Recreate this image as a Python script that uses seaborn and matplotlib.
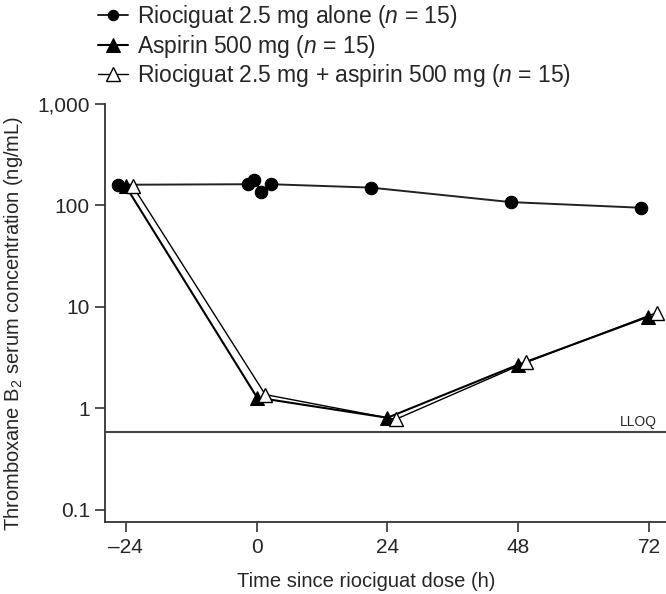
import matplotlib
matplotlib.use("Agg")
import matplotlib.pyplot as plt
import matplotlib.patheffects as pe
import pandas as pd
import seaborn as sns

# Data (time in h, thromboxane B2 in ng/mL)
rio_time = [-25.5, -1.5, -0.4, 0.9, 2.6, 21.0, 46.6, 70.5]
rio_conc = [160, 162, 178, 137, 162, 150, 108, 95]

asa_time = [-24.0, 0.1, 24.0, 48.0, 71.8]
asa_conc = [155, 1.28, 0.81, 2.7, 8.0]

combo_time = [-22.7, 1.6, 25.5, 49.5, 73.4]
combo_conc = [155, 1.37, 0.78, 2.85, 8.8]

lloq = 0.58
x_ticks = [-24, 0, 24, 48, 72]
x_labels = ["\u201324", "0", "24", "48", "72"]
y_ticks = [0.1, 1, 10, 100, 1000]
y_labels = ["0.1", "1", "10", "100", "1,000"]

labels = [
    r"Riociguat 2.5 mg alone ($\it{n}$ = 15)",
    r"Aspirin 500 mg ($\it{n}$ = 15)",
    r"Riociguat 2.5 mg + aspirin 500 mg ($\it{n}$ = 15)",
]

sns.set_style("ticks")
plt.rcParams["font.family"] = ["Liberation Sans", "DejaVu Sans"]
plt.rcParams["mathtext.fontset"] = "custom"
plt.rcParams["mathtext.rm"] = "Liberation Sans"
plt.rcParams["mathtext.it"] = "Liberation Sans:italic"

fig = plt.figure(figsize=(6.66, 5.94), dpi=100)
ax = fig.add_axes([105 / 666, 1 - 521.7 / 594, 1 - 105 / 666, (521.7 - 104) / 594])

line_col = "#222222"
df_rio = pd.DataFrame({"t": rio_time, "c": rio_conc})
df_asa = pd.DataFrame({"t": asa_time, "c": asa_conc})
df_combo = pd.DataFrame({"t": combo_time, "c": combo_conc})

sns.lineplot(data=df_rio, x="t", y="c", ax=ax, color=line_col, lw=1.4,
             marker="o", markersize=9, markerfacecolor="black",
             markeredgecolor="black", label=labels[0])
sns.lineplot(data=df_asa, x="t", y="c", ax=ax, color="black", lw=1.5,
             marker="^", markersize=10.5, markerfacecolor="black",
             markeredgecolor="black", label=labels[1])
sns.lineplot(data=df_combo, x="t", y="c", ax=ax, color="white", lw=1.6,
             marker="^", markersize=10.5, markerfacecolor="white",
             markeredgecolor="black", markeredgewidth=1.0, label=labels[2],
             path_effects=[pe.Stroke(linewidth=3.6, foreground="black"), pe.Normal()])

ax.axhline(lloq, color="#444444", lw=1.5, zorder=1)
ax.text(70, 0.63, "LLOQ", ha="center", va="bottom", fontsize=10)

ax.set_yscale("log")
ax.set_ylim(0.0766, 1000)
ax.set_xlim(-27.8, 75.1)
ax.set_yticks(y_ticks)
ax.set_yticklabels(y_labels)
ax.minorticks_off()
ax.set_xticks(x_ticks)
ax.set_xticklabels(x_labels)
ax.tick_params(axis="both", length=7.2, width=1.2, color="#333333",
               labelsize=15, direction="out")
ax.tick_params(axis="y", pad=3.6)
ax.tick_params(axis="x", pad=4.5)
for s in ["top", "right"]:
    ax.spines[s].set_visible(False)
for s in ["left", "bottom"]:
    ax.spines[s].set_linewidth(1.3)
    ax.spines[s].set_color("#333333")

ax.set_xlabel("Time since riociguat dose (h)", fontsize=14.5)
ax.xaxis.set_label_coords((366 - 105) / 561, -0.12)
ax.set_ylabel(r"Thromboxane B$_2$ serum concentration (ng/mL)", fontsize=14.5)
ax.yaxis.set_label_coords(-0.142, 0.474)

# legend handles without the white/black path effect
handles, _ = ax.get_legend_handles_labels()
h3 = handles[2]
h3.set_path_effects([])
h3.set_color("black")
h3.set_linewidth(1.0)
leg = ax.legend(handles=handles, labels=labels, loc="upper left",
                bbox_to_anchor=(96 / 666, 1.0 - 1 / 594), bbox_transform=fig.transFigure,
                frameon=False, fontsize=16.5, handlelength=1.3, handletextpad=0.4,
                labelspacing=0.1, borderpad=0.1, borderaxespad=0)
for lh, ms in zip(leg.legend_handles, [7.5, 9.5, 9.5]):
    lh.set_markersize(ms)

fig.savefig("out.png", dpi=100)
